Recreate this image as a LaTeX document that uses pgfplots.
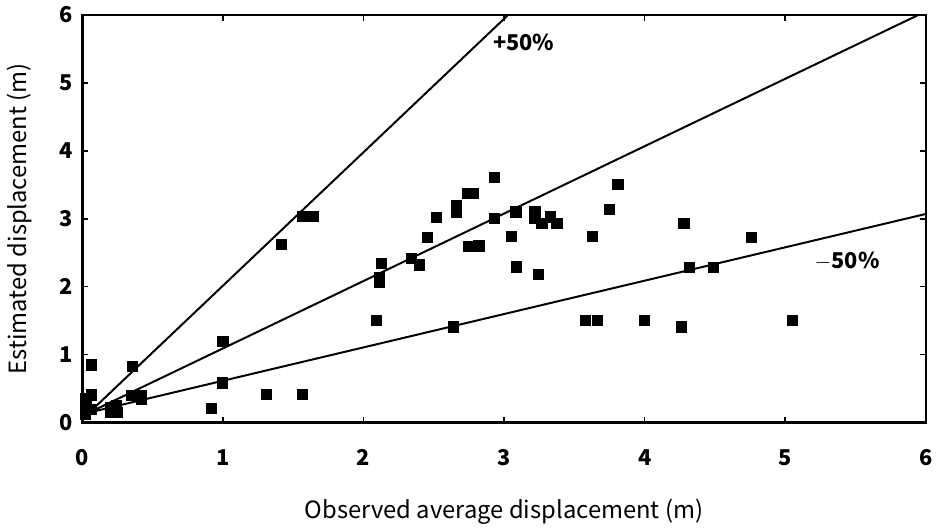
\documentclass[border=0pt]{standalone}
\usepackage{fontspec}
\setmainfont{Noto Sans CJK JP}
\usepackage{pgfplots}
\pgfplotsset{compat=1.18}
\begin{document}
\begin{tikzpicture}
\begin{axis}[
  scale only axis,
  width=426pt, height=206pt,
  xmin=0, xmax=6, ymin=0, ymax=6,
  xtick={0,1,2,3,4,5,6}, ytick={0,1,2,3,4,5,6},
  tick align=inside,
  major tick length=3pt,
  axis line style={line width=1.2pt},
  every tick/.style={black, line width=0.8pt},
  ticklabel style={font=\fontsize{11}{13}\selectfont\bfseries},
  /pgf/number format/assume math mode=true,
  xticklabel style={anchor=center, yshift=-17.5pt},
  yticklabel style={anchor=east, xshift=-1.5pt},
  xlabel={Observed average displacement (m)},
  ylabel={Estimated displacement (m)},
  label style={font=\fontsize{12}{14}\selectfont},
  xlabel style={at={(axis description cs:0.5,-0.218)}, anchor=center},
  ylabel style={at={(axis description cs:-0.0751,0.5)}, anchor=center},
  clip=true,
]
% reference lines
\addplot[black, line width=1pt] coordinates {(0.05,0.15) (3.03,6.0)};
\addplot[black, line width=1pt] coordinates {(0.05,0.15) (6.0,6.05)};
\addplot[black, line width=1pt] coordinates {(0.05,0.15) (6.0,3.07)};
% observations
\addplot[only marks, mark=square*, mark size=2.6pt, black] coordinates {
(0.02,0.12) (0.02,0.22) (0.02,0.35) (0.03,0.28) (0.06,0.20)
(0.064,0.85) (0.064,0.41)
(0.20,0.15) (0.22,0.20) (0.24,0.25) (0.20,0.22) (0.25,0.15)
(0.355,0.83)
(0.35,0.40) (0.384,0.40) (0.42,0.40) (0.42,0.35)
(1.00,1.20) (0.995,0.585) (0.917,0.21) (1.31,0.42) (1.564,0.42)
(1.414,2.62) (1.568,3.03) (1.64,3.03)
(2.125,2.34) (2.113,2.07) (2.113,2.13) (2.09,1.50)
(2.34,2.415) (2.40,2.32) (2.452,2.73) (2.516,3.015)
(2.66,3.20) (2.66,3.10) (2.64,1.41)
(2.93,3.61) (2.74,3.37) (2.78,3.37) (2.93,3.01) (3.085,3.10)
(2.75,2.59) (2.82,2.60) (3.05,2.74) (3.09,2.29) (3.245,2.18)
(3.22,3.11) (3.22,3.00) (3.27,2.93) (3.33,3.025) (3.376,2.93)
(3.63,2.74) (3.75,3.14) (3.81,3.50)
(3.58,1.50) (3.665,1.50) (4.00,1.50)
(4.28,2.93) (4.76,2.73) (4.32,2.28) (4.49,2.28) (4.26,1.41) (5.05,1.50)
};
\node[font=\fontsize{11}{13}\selectfont\bfseries] at (axis cs:3.14,5.6) {+50\%};
\node[font=\fontsize{11}{13}\selectfont\bfseries] at (axis cs:5.44,2.38) {$-$50\%};
\end{axis}
\end{tikzpicture}
\end{document}
